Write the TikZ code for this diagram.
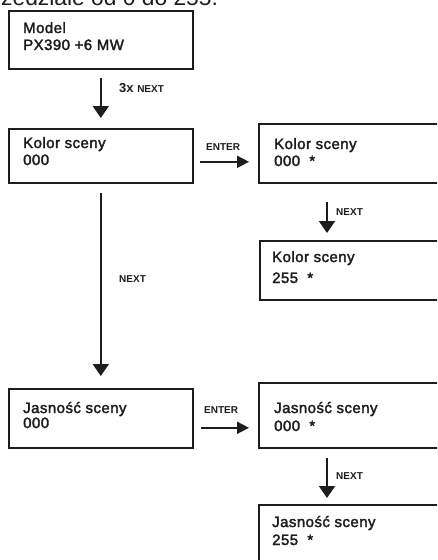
\documentclass[tikz,border=0pt]{standalone}
\usepackage{fontspec}
\setmainfont{Liberation Sans}
\newfontfamily\boxfont[LetterSpace=3,FakeBold=2.2]{Liberation Sans}
\usetikzlibrary{arrows.meta}
\definecolor{ink}{HTML}{1E1C1D}
\tikzset{
  box/.style={draw=ink, line width=1.6pt, minimum width=184pt, inner sep=0pt, anchor=north west},
  wbox/.style={box, minimum width=190pt},
  txt/.style={inner sep=0pt, anchor=base west, text=ink, font=\boxfont\fontsize{15}{15}\selectfont},
  lbl/.style={inner sep=0pt, anchor=base west, text=ink, font=\bfseries\fontsize{10}{10}\selectfont},
  arr/.style={draw=ink, line width=1.8pt, -{Triangle[length=12pt,width=16pt]}},
  harr/.style={draw=ink, line width=1.8pt, -{Triangle[length=12pt,width=12pt]}}
}
\begin{document}
\begin{tikzpicture}[x=1pt,y=-1pt]
\useasboundingbox (0,0) rectangle (437,560);
\clip (0,0) rectangle (437,560);
% partial top line
\node[inner sep=0pt, anchor=base west, text=ink, font=\fontsize{22.8}{22.8}\selectfont] (top) at (1,5) {zedziale od 0 do 255.};
% boxes
\node[box, minimum height=58pt] (m) at (8,10) {};
\node[box, minimum height=54pt] (k1) at (8,128) {};
\node[wbox, minimum height=59pt] (k2) at (258,123) {};
\node[wbox, minimum height=59pt] (k3) at (259,240) {};
\node[box, minimum height=59pt] (j1) at (8,388) {};
\node[wbox, minimum height=65pt] (j2) at (258,382) {};
\node[wbox, minimum height=70pt] (j3) at (258,504) {};
% texts
\node[txt] (m1) at (23,33) {Model};
\node[txt] (m2) at (23,50) {PX390 +6 MW};
\node[txt] (k1a) at (23,148) {Kolor sceny};
\node[txt] (k1b) at (23,165) {000};
\node[txt] (k2a) at (274,149) {Kolor sceny};
\node[txt] (k2b) at (274,166) {000~~*};
\node[txt] (k3a) at (272,262) {Kolor sceny};
\node[txt] (k3b) at (272,283) {255~~*};
\node[txt] (j1a) at (23,413) {Jasność sceny};
\node[txt] (j1b) at (23,428) {000};
\node[txt] (j2a) at (274,413) {Jasność sceny};
\node[txt] (j2b) at (274,431) {000~~*};
\node[txt] (j3a) at (272,527) {Jasność sceny};
\node[txt] (j3b) at (272,545) {255~~*};
% connectors
\draw[arr, shorten <=8pt, shorten >=10pt] (m.south) -- (k1.north);
\draw[harr, shorten <=6pt, shorten >=9pt] ([yshift=-6pt]k1.east) -- ([yshift=-6pt]k1.east -| k2.west);
\draw[arr, shorten <=18pt, shorten >=7pt] ([xshift=69pt]k2.south west) -- ([xshift=69pt]k2.south west |- k3.north);
\draw[arr, shorten <=9pt, shorten >=12pt] (k1.south) -- (j1.north);
\draw[harr, shorten <=7pt, shorten >=9pt] ([yshift=-9.5pt]j1.east) -- ([yshift=-9.5pt]j1.east -| j2.west);
\draw[arr, shorten <=9pt, shorten >=6pt] ([xshift=69pt]j2.south west) -- ([xshift=69pt]j2.south west |- j3.north);
% connector labels
\node[lbl] (l1) at (119,92.7) {{\fontsize{13}{13}\selectfont 3x}\hspace{3.6pt}NEXT};
\node[lbl] (l2) at (206,150) {ENTER};
\node[lbl] (l3) at (336,215) {NEXT};
\node[lbl] (l4) at (119,282) {NEXT};
\node[lbl] (l5) at (204,413) {ENTER};
\node[lbl] (l6) at (336,479) {NEXT};
\end{tikzpicture}
\end{document}
